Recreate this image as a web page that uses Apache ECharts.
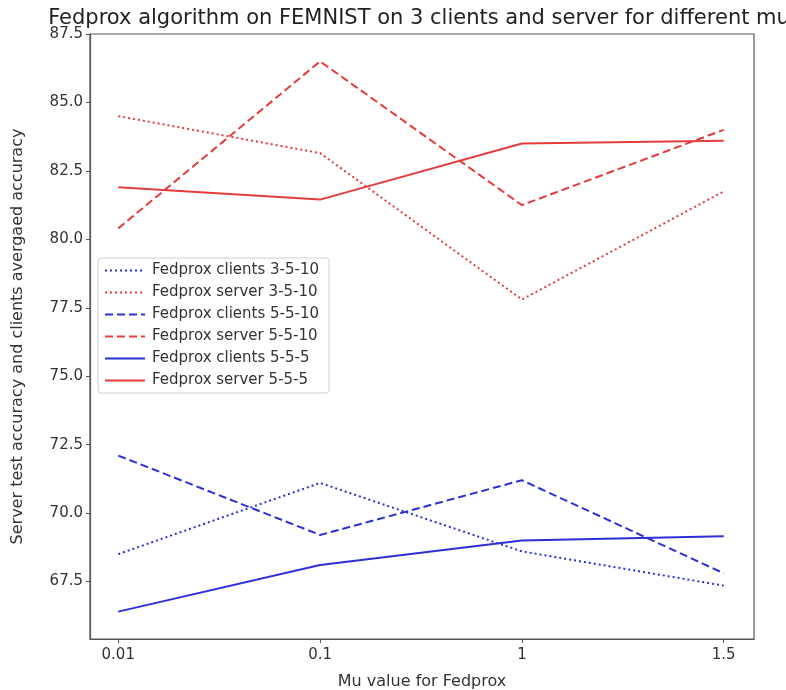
<!DOCTYPE html>
<html>
<head>
<meta charset="utf-8">
<script src="https://cdn.jsdelivr.net/npm/echarts@6/dist/echarts.min.js"></script>
<style>
  html, body { margin: 0; padding: 0; background: #fff; }
  #chart { width: 786px; height: 690px; }
</style>
</head>
<body>
<div id="chart"></div>
<script>
// Mu values tried for Fedprox (shown as evenly spaced categories)
const muValues = ['0.01', '0.1', '1', '1.5'];

// Averaged client accuracy and server test accuracy per configuration
const clients3510 = [68.5, 71.1, 68.6, 67.35];
const server3510  = [84.5, 83.15, 77.8, 81.75];
const clients5510 = [72.1, 69.2, 71.2, 67.8];
const server5510  = [80.4, 86.5, 81.25, 84.0];
const clients555  = [66.4, 68.1, 69.0, 69.15];
const server555   = [81.9, 81.45, 83.5, 83.6];

const yTicks = [67.5, 70.0, 72.5, 75.0, 77.5, 80.0, 82.5, 85.0, 87.5];

const BLUE = '#2f2fd8';
const RED = '#e43c3c';
const FONT = 'DejaVu Sans';

function pairs(values) {
  return values.map((v, i) => [i, v]);
}

function line(name, values, color, type) {
  let dash = 'solid';
  if (type === 'dotted') dash = [2, 3];
  if (type === 'dashed') dash = [8, 4];
  return {
    name: name,
    type: 'line',
    data: pairs(values),
    symbol: 'none',
    showSymbol: false,
    smooth: false,
    lineStyle: { color: color, width: 2, type: dash, cap: 'butt' },
    itemStyle: { color: color },
    emphasis: { disabled: true },
    z: 3
  };
}

const chart = echarts.init(document.getElementById('chart'), null, { renderer: 'canvas' });

chart.setOption({
  animation: false,
  backgroundColor: '#ffffff',
  title: {
    text: 'Fedprox algorithm on FEMNIST on 3 clients and server for different mu',
    left: 414,
    textAlign: 'center',
    top: 3,
    textStyle: { fontFamily: FONT, fontSize: 21, fontWeight: 'normal', color: '#222' }
  },
  grid: {
    left: 90, right: 32, top: 34, bottom: 51,
    outerBoundsMode: 'none',
    show: true, borderColor: '#555', borderWidth: 1.2
  },
  legend: {
    left: 98,
    top: 258,
    orient: 'vertical',
    itemGap: 7,
    itemWidth: 40,
    itemHeight: 15,
    padding: [5, 10, 5, 6],
    borderColor: '#d0d0d0',
    borderWidth: 1,
    borderRadius: 3,
    backgroundColor: 'rgba(255,255,255,0.85)',
    itemStyle: { opacity: 0 },
    textStyle: { fontFamily: FONT, fontSize: 15, color: '#333', padding: [0, 0, 0, 2] },
    data: [
      'Fedprox clients 3-5-10',
      'Fedprox server 3-5-10',
      'Fedprox clients 5-5-10',
      'Fedprox server 5-5-10',
      'Fedprox clients 5-5-5',
      'Fedprox server 5-5-5'
    ]
  },
  xAxis: {
    type: 'value',
    min: -0.14,
    max: 3.15,
    name: 'Mu value for Fedprox',
    nameLocation: 'middle',
    nameGap: 35,
    nameTextStyle: { fontFamily: FONT, fontSize: 16, color: '#333' },
    splitLine: { show: false },
    axisLine: { show: true, onZero: false, lineStyle: { color: '#555', width: 1.2 } },
    axisTick: { show: true, length: 4, customValues: [0, 1, 2, 3], lineStyle: { color: '#555' } },
    axisLabel: {
      customValues: [0, 1, 2, 3],
      formatter: v => muValues[Math.round(v)],
      fontFamily: FONT, fontSize: 15, color: '#333', margin: 9
    }
  },
  yAxis: {
    type: 'value',
    min: 65.4,
    max: 87.5,
    name: 'Server test accuracy and clients avergaed accuracy',
    nameLocation: 'middle',
    nameGap: 64,
    nameTextStyle: { fontFamily: FONT, fontSize: 16, color: '#333' },
    splitLine: { show: false },
    axisLine: { show: true, onZero: false, lineStyle: { color: '#555', width: 1.2 } },
    axisTick: { show: true, length: 4, customValues: yTicks, lineStyle: { color: '#555' } },
    axisLabel: {
      customValues: yTicks,
      formatter: v => v.toFixed(1),
      fontFamily: FONT, fontSize: 15, color: '#333', margin: 7
    }
  },
  series: [
    line('Fedprox clients 3-5-10', clients3510, BLUE, 'dotted'),
    line('Fedprox server 3-5-10', server3510, RED, 'dotted'),
    line('Fedprox clients 5-5-10', clients5510, BLUE, 'dashed'),
    line('Fedprox server 5-5-10', server5510, RED, 'dashed'),
    line('Fedprox clients 5-5-5', clients555, BLUE, 'solid'),
    line('Fedprox server 5-5-5', server555, RED, 'solid')
  ]
});
</script>
</body>
</html>
